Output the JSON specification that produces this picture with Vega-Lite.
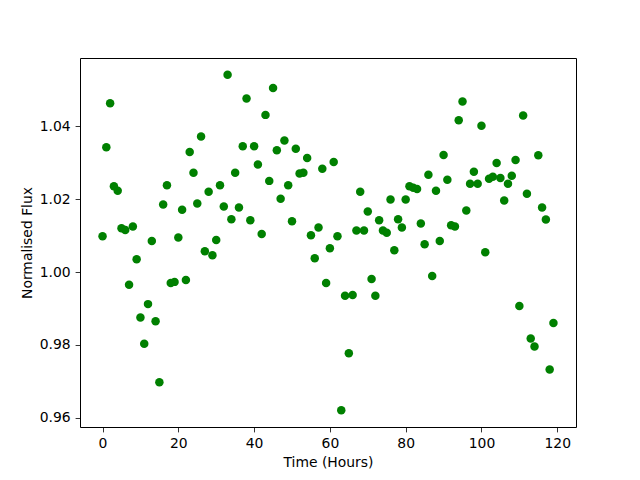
{
  "$schema": "https://vega.github.io/schema/vega-lite/v6.json",
  "width": 496,
  "height": 369,
  "autosize": {"type": "none"},
  "padding": {"left": 80, "top": 58, "right": 64, "bottom": 53},
  "background": "white",
  "config": {
    "view": {"stroke": "black", "strokeWidth": 1},
    "font": "DejaVu Sans",
    "axis": {
      "grid": false,
      "domain": false,
      "tickColor": "black",
      "tickSize": 4.9,
      "tickWidth": 0.8,
      "labelColor": "black",
      "labelFontSize": 13.9,
      "labelFont": "DejaVu Sans",
      "titleFont": "DejaVu Sans",
      "titleFontSize": 13.9,
      "titleFontWeight": "normal",
      "titleColor": "black",
      "labelPadding": 4.9
    }
  },
  "data": {
    "values": [
      {"t": 0, "f": 1.0098}, {"t": 1, "f": 1.0342}, {"t": 2, "f": 1.0463}, {"t": 3, "f": 1.0235}, {"t": 4, "f": 1.0223},
      {"t": 5, "f": 1.0120}, {"t": 6, "f": 1.0115}, {"t": 7, "f": 0.9965}, {"t": 8, "f": 1.0125}, {"t": 9, "f": 1.0035},
      {"t": 10, "f": 0.9875}, {"t": 11, "f": 0.9803}, {"t": 12, "f": 0.9912}, {"t": 13, "f": 1.0085}, {"t": 14, "f": 0.9865},
      {"t": 15, "f": 0.9698}, {"t": 16, "f": 1.0185}, {"t": 17, "f": 1.0238}, {"t": 18, "f": 0.9970}, {"t": 19, "f": 0.9973},
      {"t": 20, "f": 1.0095}, {"t": 21, "f": 1.0171}, {"t": 22, "f": 0.9978}, {"t": 23, "f": 1.0329}, {"t": 24, "f": 1.0272},
      {"t": 25, "f": 1.0188}, {"t": 26, "f": 1.0372}, {"t": 27, "f": 1.0057}, {"t": 28, "f": 1.0220}, {"t": 29, "f": 1.0046},
      {"t": 30, "f": 1.0088}, {"t": 31, "f": 1.0238}, {"t": 32, "f": 1.0180}, {"t": 33, "f": 1.0541}, {"t": 34, "f": 1.0145},
      {"t": 35, "f": 1.0272}, {"t": 36, "f": 1.0177}, {"t": 37, "f": 1.0345}, {"t": 38, "f": 1.0476}, {"t": 39, "f": 1.0142},
      {"t": 40, "f": 1.0345}, {"t": 41, "f": 1.0295}, {"t": 42, "f": 1.0104}, {"t": 43, "f": 1.0431}, {"t": 44, "f": 1.0250},
      {"t": 45, "f": 1.0505}, {"t": 46, "f": 1.0334}, {"t": 47, "f": 1.0201}, {"t": 48, "f": 1.0361}, {"t": 49, "f": 1.0238},
      {"t": 50, "f": 1.0139}, {"t": 51, "f": 1.0338}, {"t": 52, "f": 1.0270}, {"t": 53, "f": 1.0272}, {"t": 54, "f": 1.0313},
      {"t": 55, "f": 1.0101}, {"t": 56, "f": 1.0038}, {"t": 57, "f": 1.0122}, {"t": 58, "f": 1.0283}, {"t": 59, "f": 0.9970},
      {"t": 60, "f": 1.0065}, {"t": 61, "f": 1.0302}, {"t": 62, "f": 1.0098}, {"t": 63, "f": 0.9621}, {"t": 64, "f": 0.9935},
      {"t": 65, "f": 0.9777}, {"t": 66, "f": 0.9937}, {"t": 67, "f": 1.0114}, {"t": 68, "f": 1.0220}, {"t": 69, "f": 1.0114},
      {"t": 70, "f": 1.0166}, {"t": 71, "f": 0.9981}, {"t": 72, "f": 0.9935}, {"t": 73, "f": 1.0142}, {"t": 74, "f": 1.0114},
      {"t": 75, "f": 1.0108}, {"t": 76, "f": 1.0199}, {"t": 77, "f": 1.0060}, {"t": 78, "f": 1.0145}, {"t": 79, "f": 1.0122},
      {"t": 80, "f": 1.0199}, {"t": 81, "f": 1.0235}, {"t": 82, "f": 1.0231}, {"t": 83, "f": 1.0228}, {"t": 84, "f": 1.0133},
      {"t": 85, "f": 1.0076}, {"t": 86, "f": 1.0267}, {"t": 87, "f": 0.9989}, {"t": 88, "f": 1.0223}, {"t": 89, "f": 1.0085},
      {"t": 90, "f": 1.0321}, {"t": 91, "f": 1.0253}, {"t": 92, "f": 1.0128}, {"t": 93, "f": 1.0125}, {"t": 94, "f": 1.0416},
      {"t": 95, "f": 1.0468}, {"t": 96, "f": 1.0169}, {"t": 97, "f": 1.0242}, {"t": 98, "f": 1.0275}, {"t": 99, "f": 1.0242},
      {"t": 100, "f": 1.0401}, {"t": 101, "f": 1.0054}, {"t": 102, "f": 1.0256}, {"t": 103, "f": 1.0261}, {"t": 104, "f": 1.0299},
      {"t": 105, "f": 1.0258}, {"t": 106, "f": 1.0196}, {"t": 107, "f": 1.0242}, {"t": 108, "f": 1.0264}, {"t": 109, "f": 1.0307},
      {"t": 110, "f": 0.9907}, {"t": 111, "f": 1.0429}, {"t": 112, "f": 1.0215}, {"t": 113, "f": 0.9818}, {"t": 114, "f": 0.9796},
      {"t": 115, "f": 1.0320}, {"t": 116, "f": 1.0177}, {"t": 117, "f": 1.0144}, {"t": 118, "f": 0.9733}, {"t": 119, "f": 0.9860}
    ]
  },
  "mark": {"type": "circle", "color": "#008000", "opacity": 1, "size": 72},
  "encoding": {
    "x": {
      "field": "t",
      "type": "quantitative",
      "title": "Time (Hours)",
      "scale": {"domain": [-5.95, 124.95], "nice": false, "zero": false},
      "axis": {"values": [0, 20, 40, 60, 80, 100, 120], "format": "d", "titlePadding": 5}
    },
    "y": {
      "field": "f",
      "type": "quantitative",
      "title": "Normalised Flux",
      "scale": {"domain": [0.9575, 1.0587], "nice": false, "zero": false},
      "axis": {"values": [0.96, 0.98, 1.0, 1.02, 1.04], "format": ".2f", "titlePadding": 5}
    }
  }
}
